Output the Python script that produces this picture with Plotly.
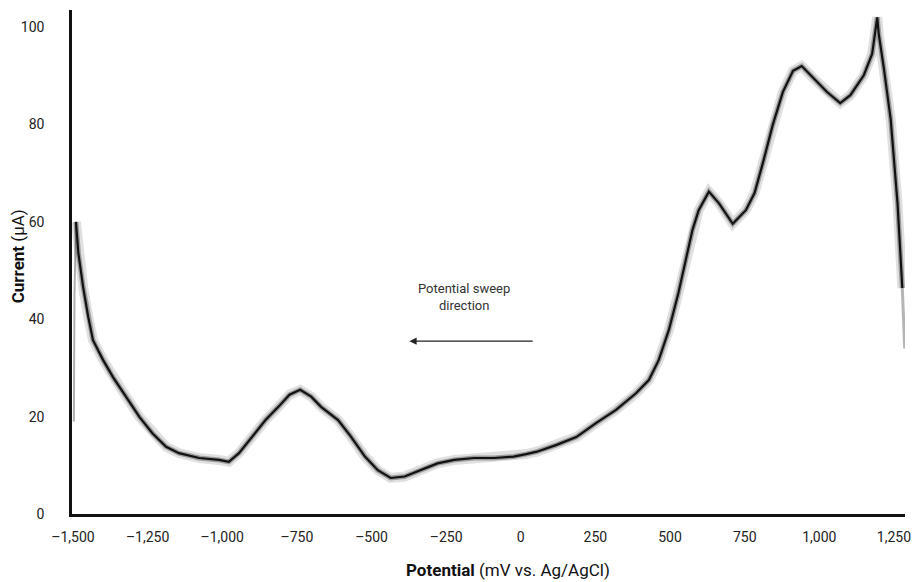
import plotly.graph_objects as go

# Potential (mV vs. Ag/AgCl) and current (µA)
potential_mv = [-1490, -1487, -1482, -1466, -1449, -1433, -1399, -1366, -1321, -1277,
                -1234, -1188, -1145, -1077, -1011, -978, -944, -902, -855, -812,
                -775, -739, -702, -669, -612, -569, -522, -479, -436, -389,
                -336, -279, -223, -156, -90, -24, 18, 54, 120, 186,
                253, 319, 386, 429, 462, 496, 528, 552, 575, 596,
                630, 664, 710, 754, 783, 811, 844, 878, 912, 941,
                980, 1025, 1070, 1104, 1149, 1177, 1194, 1199, 1216, 1239,
                1262, 1278]
current_ua = [60.0, 58.0, 53.6, 46.6, 40.5, 35.7, 31.6, 28.1, 24.0, 19.9,
              16.6, 13.8, 12.5, 11.5, 11.1, 10.7, 12.5, 15.8, 19.3, 22.0,
              24.5, 25.5, 24.1, 22.0, 19.3, 15.9, 11.8, 9.0, 7.4, 7.7,
              9.0, 10.4, 11.1, 11.5, 11.5, 11.8, 12.3, 12.8, 14.2, 15.8,
              18.7, 21.4, 24.8, 27.5, 31.6, 37.8, 45.4, 52.2, 58.3, 62.4,
              66.2, 63.8, 59.6, 62.4, 65.9, 72.1, 79.9, 86.7, 91.0, 92.0,
              89.5, 86.7, 84.4, 86.0, 90.1, 94.5, 102.0, 98.6, 91.6, 81.1,
              63.8, 46.4]

# faint grey segments at the start and end of the sweep
start_mv = [-1497, -1495, -1490]
start_ua = [19, 45, 60]
end_mv = [1278, 1282, 1286]
end_ua = [46.4, 40, 34]

x_tickvals = [-1500, -1250, -1000, -750, -500, -250, 0, 250, 500, 750, 1000, 1250]
x_ticktext = ["–1,500", "–1,250", "–1,000", "–750", "–500", "–250", "0",
              "250", "500", "750", "1,000", "1,250"]
y_tickvals = [0, 20, 40, 60, 80, 100]

FONT = "Roboto, Liberation Sans, Arial, sans-serif"

fig = go.Figure()
fig.add_trace(go.Scatter(x=start_mv, y=start_ua, mode="lines",
                         line=dict(color="rgba(120,120,120,0.6)", width=2),
                         hoverinfo="skip", showlegend=False))
fig.add_trace(go.Scatter(x=end_mv, y=end_ua, mode="lines",
                         line=dict(color="rgba(150,150,150,0.7)", width=3),
                         hoverinfo="skip", showlegend=False))
# fuzzy band under the trace
fig.add_trace(go.Scatter(x=potential_mv, y=current_ua, mode="lines",
                         line=dict(color="rgba(0,0,0,0.12)", width=10),
                         hoverinfo="skip", showlegend=False))
fig.add_trace(go.Scatter(x=potential_mv, y=current_ua, mode="lines",
                         line=dict(color="rgba(0,0,0,0.3)", width=5),
                         hoverinfo="skip", showlegend=False))
fig.add_trace(go.Scatter(x=potential_mv, y=current_ua, mode="lines",
                         line=dict(color="#111111", width=2.2),
                         showlegend=False))

fig.add_annotation(x=-190, y=44.6, xref="x", yref="y",
                   text="Potential sweep<br>direction", showarrow=False,
                   font=dict(family=FONT, size=13, color="#333333"))
fig.add_annotation(x=-373, y=35.5, ax=45, ay=35.5, xref="x", yref="y",
                   axref="x", ayref="y", text="", showarrow=True,
                   arrowhead=2, arrowsize=1.2, arrowwidth=1.2, arrowcolor="#222222")

# axis titles
fig.add_annotation(x=0.524, y=-0.111, xref="paper", yref="paper",
                   text="<b>Potential</b> (mV vs. Ag/AgCl)", showarrow=False,
                   xanchor="center", yanchor="middle",
                   font=dict(family=FONT, size=17, color="#111111"))
fig.add_annotation(x=-0.0644, y=0.512, xref="paper", yref="paper",
                   text="<b>Current</b> (µA)", showarrow=False, textangle=-90,
                   xanchor="center", yanchor="middle",
                   font=dict(family=FONT, size=17, color="#111111"))

fig.update_layout(
    width=918, height=582,
    margin=dict(l=72, r=7, t=10, b=68),
    paper_bgcolor="white", plot_bgcolor="white",
    font=dict(family=FONT, size=13, color="#222222"),
    xaxis=dict(range=[-1503.3, 1287], tickvals=x_tickvals, ticktext=x_ticktext,
               showgrid=False, zeroline=False, showline=True, linecolor="#111111",
               linewidth=2.5, ticks="outside", ticklen=8, tickcolor="rgba(0,0,0,0)",
               tickfont=dict(family=FONT, size=14, color="#222222")),
    yaxis=dict(range=[0, 103.5], tickvals=y_tickvals,
               showgrid=False, zeroline=False, showline=True, linecolor="#111111",
               linewidth=2.5, ticks="outside", ticklen=22, tickcolor="rgba(0,0,0,0)",
               tickfont=dict(family=FONT, size=14, color="#222222")),
)

fig.write_html("out.html")
